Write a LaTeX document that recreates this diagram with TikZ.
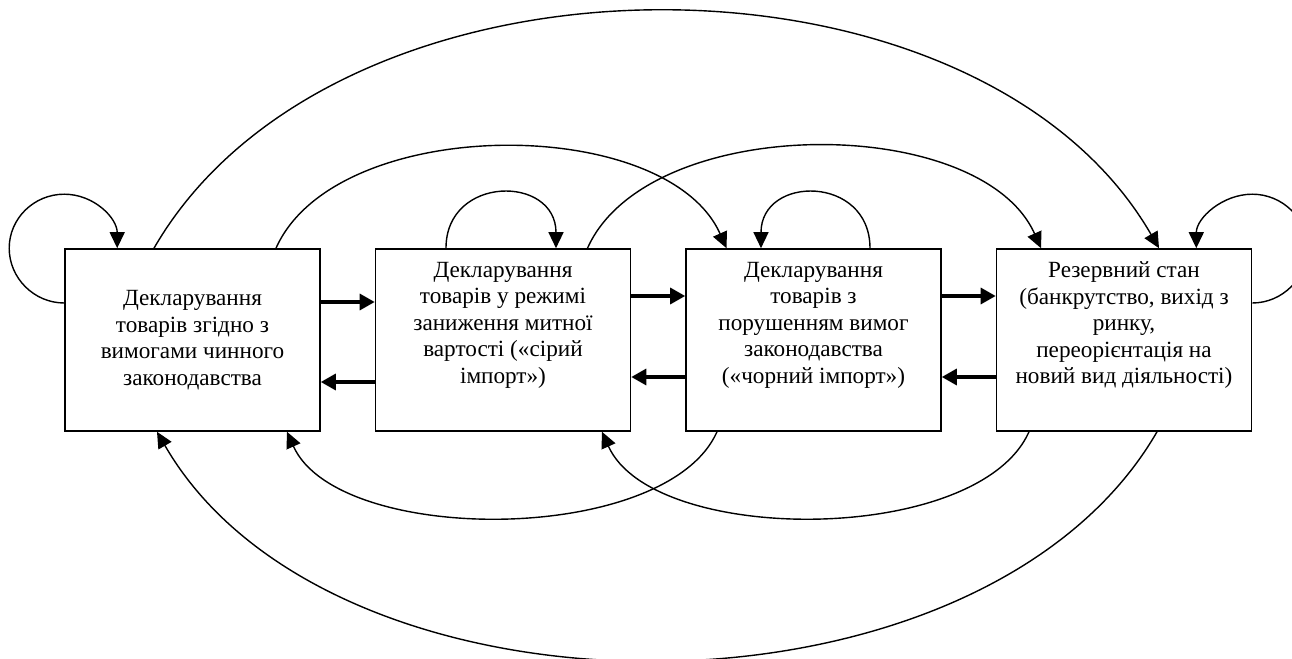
\documentclass[tikz,border=0pt]{standalone}
\usepackage{fontspec}
\setmainfont{Liberation Serif}
\usepackage{tikz}
\usetikzlibrary{arrows.meta}

\begin{document}
\begin{tikzpicture}[x=0.5pt, y=0.5pt,
  state/.style={draw, line width=0.8pt, minimum width=127.5pt, minimum height=91pt, inner sep=2pt, align=center, font=\fontsize{11.6pt}{13.3pt}\selectfont},
  link/.style={draw, line width=0.7pt, -{Triangle[length=8pt,width=7.5pt]}},
  flow/.style={draw, line width=1.6pt, -{Triangle[length=7.5pt,width=8pt]}}]
 \useasboundingbox (0,0) rectangle (1292,659);

 %boxes
 \node[state] (b1) at (192.5,319) {Декларування\\ товарів згідно з\\ вимогами чинного\\ законодавства};
 \node[state] (b2) at (503,319) {Декларування\\ товарів у режимі\\ заниження митної\\ вартості («сірий\\ імпорт»)\\ \strut};
 \node[state] (b3) at (813.5,319) {Декларування\\ товарів з\\ порушенням вимог\\ законодавства\\ («чорний імпорт»)\\ \strut};
 \node[state] (b4) at (1124,319) {Резервний стан\\ (банкрутство, вихід з\\ ринку,\\ переорієнтація на\\ новий вид діяльності)\\ \strut};

 %thick arrows
 \path[flow] ([yshift=19pt]b1.east) -- ([yshift=19pt]b2.west);
 \path[flow] ([yshift=-21pt]b2.west) -- ([yshift=-21pt]b1.east);
 \path[flow] ([yshift=22pt]b2.east) -- ([yshift=22pt]b3.west);
 \path[flow] ([yshift=-18.5pt]b3.west) -- ([yshift=-18.5pt]b2.east);
 \path[flow] ([yshift=22pt]b3.east) -- ([yshift=22pt]b4.west);
 \path[flow] ([yshift=-18.5pt]b4.west) -- ([yshift=-18.5pt]b3.east);

 %loops
 \path[link] ([yshift=18.5pt]b1.west) .. controls +(-15pt,0) and +(0,-15pt) .. ([xshift=-27.5pt]b1.north west)
   .. controls +(0,15pt) and +(-15pt,0) .. ([yshift=27pt]b1.north west)
   .. controls +(15pt,0) and +(0,15pt) .. ([xshift=26.5pt]b1.north west);
 \path[link] ([xshift=-28.5pt]b2.north) .. controls +(0,36.7pt) and +(0,36.7pt) .. ([xshift=26.5pt]b2.north);
 \path[link] ([xshift=28.25pt]b3.north) .. controls +(0,36.7pt) and +(0,36.7pt) .. ([xshift=-26.25pt]b3.north);
 \path[link] ([yshift=18.5pt]b4.east) .. controls +(15pt,0) and +(0,-15pt) .. ([xshift=27.5pt]b4.north east)
   .. controls +(0,15pt) and +(15pt,0) .. ([yshift=27pt]b4.north east)
   .. controls +(-15pt,0) and +(0,15pt) .. ([xshift=-28pt]b4.north east);

 %arcs above
 \path[link] ([xshift=-19.25pt]b1.north) to[out=60, in=120, looseness=0.93] ([xshift=17.5pt]b4.north);
 \path[link] ([xshift=41.75pt]b1.north) to[out=66, in=114, looseness=0.84] ([xshift=-43.5pt]b3.north);
 \path[link] ([xshift=42.25pt]b2.north) to[out=66, in=114, looseness=0.84] ([xshift=-41.5pt]b4.north);

 %arcs below
 \path[link] ([xshift=16.5pt]b4.south) to[out=-120, in=-60, looseness=0.90] ([xshift=-17.75pt]b1.south);
 \path[link] ([xshift=-48.25pt]b3.south) to[out=-114, in=-66, looseness=0.745] ([xshift=47.25pt]b1.south);
 \path[link] ([xshift=-47.5pt]b4.south) to[out=-114, in=-66, looseness=0.75] ([xshift=49.5pt]b2.south);

\end{tikzpicture}
\end{document}
